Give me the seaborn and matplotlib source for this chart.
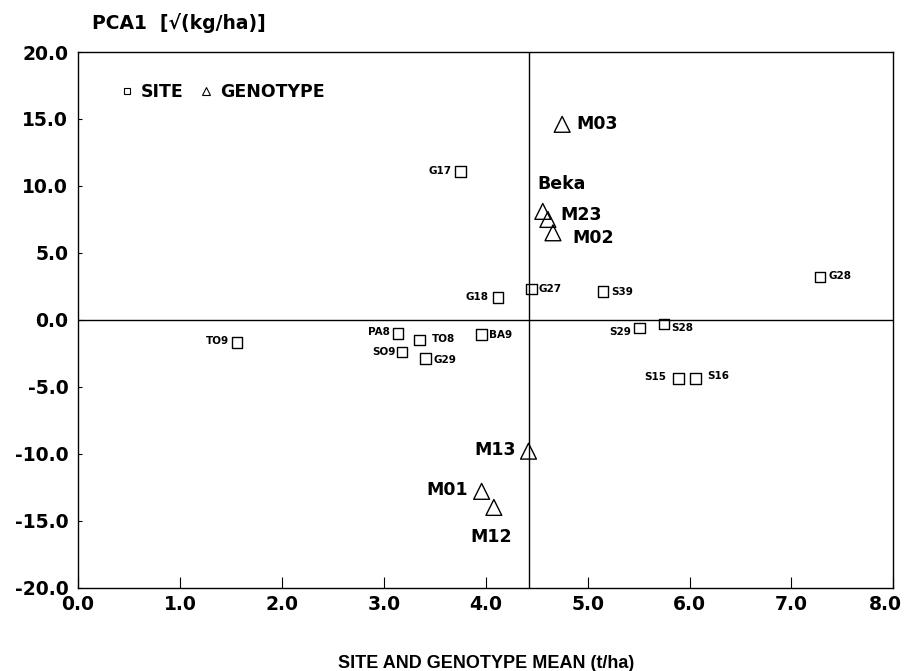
import pandas as pd
import numpy as np
import matplotlib.pyplot as plt
import matplotlib.transforms as mtransforms
import seaborn as sns
from matplotlib.lines import Line2D

sns.set_style('ticks')
plt.rcParams['font.family'] = ['DejaVu Sans']
plt.rcParams['font.weight'] = 'bold'
plt.rcParams['text.color'] = 'black'
plt.rcParams['axes.labelcolor'] = 'black'
plt.rcParams['xtick.color'] = 'black'
plt.rcParams['ytick.color'] = 'black'

# site scores
site_names = ['G17', 'G18', 'G27', 'S39', 'G28', 'TO9', 'PA8', 'TO8', 'BA9',
              'SO9', 'G29', 'S29', 'S28', 'S15', 'S16']
site_mean = [3.75, 4.12, 4.45, 5.15, 7.28, 1.56, 3.14, 3.35, 3.96,
             3.18, 3.41, 5.51, 5.75, 5.89, 6.06]
site_pca1 = [11.1, 1.7, 2.3, 2.1, 3.2, -1.7, -1.0, -1.5, -1.1,
             -2.4, -2.9, -0.6, -0.3, -4.4, -4.4]

# genotype scores
geno_names = ['M03', 'Beka', 'M23', 'M02', 'M13', 'M01', 'M12']
geno_mean = [4.75, 4.56, 4.61, 4.66, 4.42, 3.96, 4.08]
geno_pca1 = [14.6, 8.1, 7.5, 6.5, -9.8, -12.8, -14.0]

grand_mean = 4.42

sites = pd.DataFrame({'name': site_names, 'mean': site_mean, 'pca1': site_pca1})
genos = pd.DataFrame({'name': geno_names, 'mean': geno_mean, 'pca1': geno_pca1})

# label offsets in points (layout only)
site_off = {'G17': (-6, 0, 'right'), 'G18': (-7, 0, 'right'), 'G27': (5, 0, 'left'),
            'S39': (6, 0, 'left'), 'G28': (6, 1, 'left'), 'TO9': (-6, 1, 'right'),
            'PA8': (-6, 1, 'right'), 'TO8': (9, 1, 'left'), 'BA9': (5, 0, 'left'),
            'SO9': (-5, 0, 'right'), 'G29': (6, -1, 'left'), 'S29': (-6, -3, 'right'),
            'S28': (5, -3, 'left'), 'S15': (-9, 1, 'right'), 'S16': (8, 2, 'left')}
geno_off = {'M03': (10, 0, 'left'), 'Beka': (-4, 20, 'left'), 'M23': (9, 3, 'left'),
            'M02': (14, -4, 'left'), 'M13': (-9, 1, 'right'), 'M01': (-10, 1, 'right'),
            'M12': (-2, -21, 'center')}

fig = plt.figure(figsize=(9.07, 6.71), dpi=100)
ax = fig.add_axes([0.086, 0.124, 0.899, 0.7985])

ax.axhline(0, color='black', lw=1.0, zorder=1)
ax.axvline(grand_mean, color='black', lw=1.0, zorder=1)

sns.scatterplot(data=sites, x='mean', y='pca1', marker='s', s=60,
                facecolor='none', edgecolor='black', linewidth=1.0, ax=ax, zorder=3)
sns.scatterplot(data=genos, x='mean', y='pca1', marker='^', s=130,
                facecolor='none', edgecolor='black', linewidth=1.0, ax=ax, zorder=3)

for _, r in sites.iterrows():
    dx, dy, ha = site_off[r['name']]
    ax.annotate(r['name'], (r['mean'], r['pca1']), xytext=(dx, dy),
                textcoords='offset points', ha=ha, va='center',
                fontsize=7.5, fontweight='bold')
for _, r in genos.iterrows():
    dx, dy, ha = geno_off[r['name']]
    ax.annotate(r['name'], (r['mean'], r['pca1']), xytext=(dx, dy),
                textcoords='offset points', ha=ha, va='center',
                fontsize=12.5, fontweight='bold')

ax.set_xlim(0, 8)
ax.set_ylim(-20, 20)
ax.set_xticks(np.arange(0, 8.1, 1))
ax.set_yticks(np.arange(-20, 20.1, 5))
ax.set_xticklabels([f'{v:.1f}' for v in np.arange(0, 8.1, 1)])
ax.set_yticklabels([f'{v:.1f}' for v in np.arange(-20, 20.1, 5)])
ax.tick_params(axis='x', direction='in', length=8, width=0.8, labelsize=13.5, pad=5)
ax.tick_params(axis='y', direction='in', length=3, width=0.8, labelsize=13.5, pad=7)
for lab in ax.get_xticklabels() + ax.get_yticklabels():
    lab.set_fontweight('bold')
# last x label sits a little left of its tick, as in the original
last = ax.get_xticklabels()[-1]
last.set_transform(last.get_transform() +
                   mtransforms.ScaledTranslation(-6 / 72, 0, fig.dpi_scale_trans))
for s in ax.spines.values():
    s.set_linewidth(1.0)
    s.set_color('black')

ax.set_xlabel('SITE AND GENOTYPE MEAN (t/ha)', fontsize=13, fontweight='bold',
              family='Liberation Sans', labelpad=30)
ax.set_ylabel('')
fig.text(0.101, 0.965, 'PCA1  [√(kg/ha)]', fontsize=13.5, fontweight='bold', va='center')

handles = [Line2D([], [], marker='s', ls='', mfc='none', mec='black', ms=5, mew=0.8),
           Line2D([], [], marker='^', ls='', mfc='none', mec='black', ms=6, mew=0.8)]
ax.legend(handles, ['SITE', 'GENOTYPE'], loc='upper left', bbox_to_anchor=(0.034, 0.972),
          ncol=2, frameon=False, handlelength=0.6, handletextpad=0.5, columnspacing=1.0,
          prop={'size': 12.5, 'weight': 'bold'})

plt.savefig('out.png', dpi=100)
